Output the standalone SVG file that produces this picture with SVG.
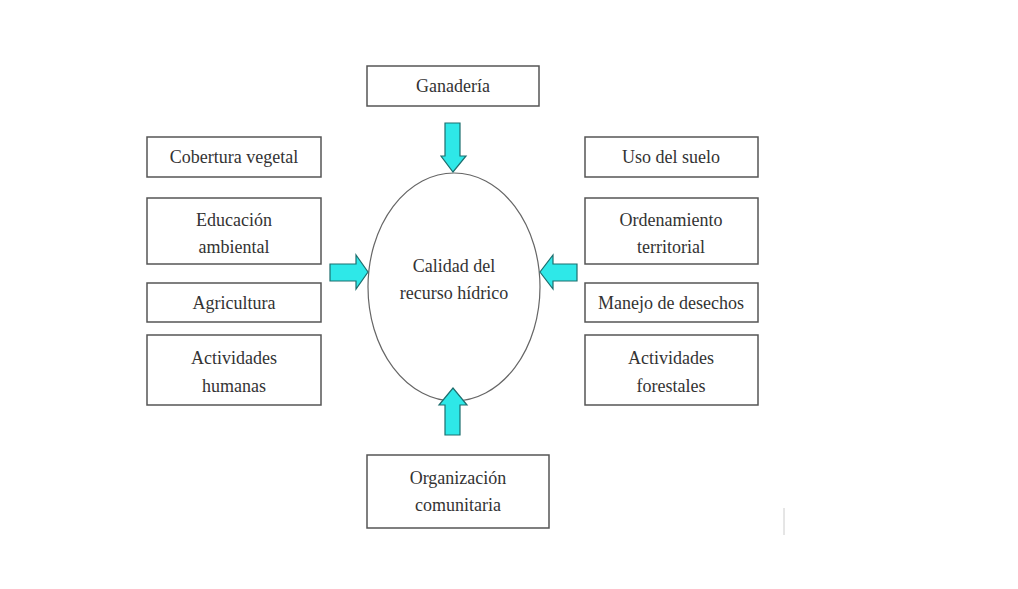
<svg xmlns="http://www.w3.org/2000/svg" width="1018" height="589" viewBox="0 0 1018 589">
<style>
.box{fill:#fff;stroke:#555;stroke-width:1.5}
.t{font-family:'Liberation Serif','Times New Roman','DejaVu Serif',serif;font-size:18px;fill:#333;text-anchor:middle}
.arr{fill:#2ee8e8;stroke:#1d6e6e;stroke-width:1.2}
</style>
<rect width="1018" height="589" fill="#fff"/>
<g id="center"><ellipse cx="454" cy="287" rx="86" ry="114" fill="#fff" stroke="#666" stroke-width="1.2"/>
<text class="t" x="454" y="272">Calidad del</text><text class="t" x="454" y="299">recurso hídrico</text></g>
<g id="ganaderia"><rect class="box" x="367" y="66" width="172" height="40"/><text class="t" x="453" y="92">Ganadería</text></g>
<g id="cobertura"><rect class="box" x="147" y="137" width="174" height="40"/><text class="t" x="234" y="163">Cobertura vegetal</text></g>
<g id="educacion"><rect class="box" x="147" y="198" width="174" height="66"/><text class="t" x="234" y="226">Educación</text><text class="t" x="234" y="253">ambiental</text></g>
<g id="agricultura"><rect class="box" x="147" y="283" width="174" height="39"/><text class="t" x="234" y="309">Agricultura</text></g>
<g id="actividades-humanas"><rect class="box" x="147" y="335" width="174" height="70"/><text class="t" x="234" y="364">Actividades</text><text class="t" x="234" y="392">humanas</text></g>
<g id="uso-suelo"><rect class="box" x="585" y="137" width="173" height="40"/><text class="t" x="671" y="163">Uso del suelo</text></g>
<g id="ordenamiento"><rect class="box" x="585" y="198" width="173" height="66"/><text class="t" x="671" y="226">Ordenamiento</text><text class="t" x="671" y="253">territorial</text></g>
<g id="manejo"><rect class="box" x="585" y="283" width="173" height="39"/><text class="t" x="671" y="309">Manejo de desechos</text></g>
<g id="actividades-forestales"><rect class="box" x="585" y="335" width="173" height="70"/><text class="t" x="671" y="364">Actividades</text><text class="t" x="671" y="392">forestales</text></g>
<g id="organizacion"><rect class="box" x="367" y="455" width="182" height="73"/><text class="t" x="458" y="484">Organización</text><text class="t" x="458" y="511">comunitaria</text></g>
<g id="connectors">
<polygon class="arr" points="445,123 460,123 460,156 466,156 453,172 441,156 445,156"/>
<polygon class="arr" points="445,435 460,435 460,405 467,405 453,388 439,405 445,405"/>
<polygon class="arr" points="330,264 356,264 356,255 368,272 356,289 356,281 330,281"/>
<polygon class="arr" points="577,264 553,264 553,255 540,272 553,289 553,281 577,281"/>
</g>
<line x1="784" y1="508" x2="784" y2="535" stroke="#ccc" stroke-width="1"/>
</svg>
